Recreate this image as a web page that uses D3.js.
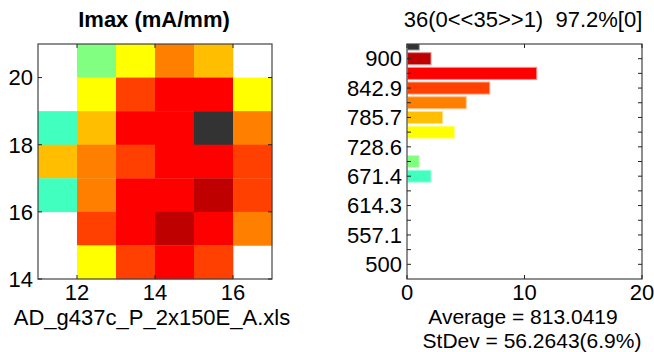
<!DOCTYPE html>
<html><head><meta charset="utf-8">
<script src="https://cdn.jsdelivr.net/npm/d3@7"></script>
<style>
html,body{margin:0;padding:0;background:#fff;}
svg{display:block;}
text{font-family:"Liberation Sans",Arial,sans-serif;fill:#000;}
</style></head>
<body>
<script>
// ---------- data ----------
const title = "Imax (mA/mm)";
const fileName = "AD_g437c_P_2x150E_A.xls";
const histTitle = "36(0<<35>>1)  97.2%[0]";
const avgText = "Average = 813.0419";
const stdText = "StDev = 56.2643(6.9%)";

const gridX = [11, 12, 13, 14, 15, 16];          // cell left edges
const gridY = [20, 19, 18, 17, 16, 15, 14];      // cell bottom edges
// Imax values (mA/mm), null = no data
const gridValues = [
  [null, 702, 760, 812, 786, null],
  [null, 755, 845, 872, 870, 758],
  [672,  787, 868, 875, 935, 815],
  [784,  813, 841, 870, 873, 843],
  [670,  816, 872, 869, 899, 844],
  [null, 842, 871, 901, 874, 812],
  [null, 757, 843, 870, 842, null]
];

// histogram bins (centers) and counts
const binCenters = [928.57, 900, 871.43, 842.86, 814.29, 785.71, 757.14, 728.57, 700, 671.43, 642.86, 614.29, 585.71, 557.14, 528.57, 500];
const binCounts  = [1, 2, 11, 7, 5, 3, 4, 0, 1, 2, 0, 0, 0, 0, 0, 0];
const binColors  = ["#333333", "#bf0000", "#ff0000", "#ff4000", "#ff8000", "#ffbf00", "#ffff00", "#bfff40", "#80ff80", "#40ffbf", "#00ffff", "#00bfff", "#0080ff", "#0040ff", "#0000ff", "#0000bf"];

const heatXTicks = [12, 14, 16];
const heatYTicks = [14, 16, 18, 20];
const histXTicks = [0, 10, 20];
const histYTickValues = [500, 528.57, 557.14, 585.71, 614.29, 642.86, 671.43, 700, 728.57, 757.14, 785.71, 814.29, 842.86, 871.43, 900];
const histYLabelValues = [500, 557.14, 614.29, 671.43, 728.57, 785.71, 842.86, 900];
const histYLabels = ["500", "557.1", "614.3", "671.4", "728.6", "785.7", "842.9", "900"];

// ---------- layout ----------
const W = 654, H = 352;
const FS = 22;
const FS2 = 21;
const svg = d3.select("body").append("svg").attr("width", W).attr("height", H);
const axisColor = "#444";
const tickLen = 4;

const binW = 400 / 14;
const colorOf = v => {
  let best = 0, bd = Infinity;
  binCenters.forEach((c, i) => { const d = Math.abs(v - c); if (d < bd) { bd = d; best = i; } });
  return binColors[best];
};

// ---------- heatmap ----------
const hx = d3.scaleLinear().domain([11, 17]).range([38, 272]);
const hy = d3.scaleLinear().domain([14, 21]).range([279, 44]);

const cells = [];
gridValues.forEach((row, r) => row.forEach((v, c) => {
  if (v !== null) cells.push({x: gridX[c], y: gridY[r], v});
}));
svg.append("g").selectAll("rect").data(cells).join("rect")
  .attr("x", d => hx(d.x)).attr("y", d => hy(d.y + 1))
  .attr("width", d => hx(d.x + 1) - hx(d.x) + 0.3)
  .attr("height", d => hy(d.y) - hy(d.y + 1) + 0.3)
  .attr("fill", d => colorOf(d.v));

function frame(x0, x1, y0, y1) {
  svg.append("rect").attr("x", x0).attr("y", y0).attr("width", x1 - x0).attr("height", y1 - y0)
    .attr("fill", "none").attr("stroke", axisColor).attr("stroke-width", 1.2);
}
frame(hx(11), hx(17), hy(21), hy(14));

const hg = svg.append("g").attr("stroke", "#222").attr("stroke-width", 1);
heatXTicks.forEach(t => {
  hg.append("line").attr("x1", hx(t)).attr("x2", hx(t)).attr("y1", hy(14)).attr("y2", hy(14) - tickLen);
  hg.append("line").attr("x1", hx(t)).attr("x2", hx(t)).attr("y1", hy(21)).attr("y2", hy(21) + tickLen);
});
heatYTicks.forEach(t => {
  hg.append("line").attr("x1", hx(11)).attr("x2", hx(11) + tickLen).attr("y1", hy(t)).attr("y2", hy(t));
  hg.append("line").attr("x1", hx(17)).attr("x2", hx(17) - tickLen).attr("y1", hy(t)).attr("y2", hy(t));
});
svg.append("g").selectAll("text").data(heatXTicks).join("text")
  .attr("x", d => hx(d)).attr("y", 300).attr("text-anchor", "middle")
  .attr("font-size", FS).text(d => d);
svg.append("g").selectAll("text").data(heatYTicks).join("text")
  .attr("x", 33).attr("y", d => hy(d) + 7.8).attr("text-anchor", "end")
  .attr("font-size", FS).text(d => d);

svg.append("text").attr("x", 154).attr("y", 27).attr("text-anchor", "middle")
  .attr("font-size", FS).attr("font-weight", "bold").text(title);
svg.append("text").attr("x", 152).attr("y", 325).attr("text-anchor", "middle")
  .attr("font-size", FS).text(fileName);

// ---------- histogram ----------
const bx = d3.scaleLinear().domain([0, 20]).range([407, 642]);
const by = d3.scaleLinear().domain([471.43, 928.57]).range([279, 44]);

svg.append("clipPath").attr("id", "hclip").append("rect")
  .attr("x", bx(0)).attr("y", by(928.57)).attr("width", bx(20) - bx(0)).attr("height", by(471.43) - by(928.57));

const bars = binCenters.map((c, i) => ({c, n: binCounts[i], col: binColors[i]})).filter(d => d.n > 0);
const barH = binW * 0.82;
svg.append("g").attr("clip-path", "url(#hclip)").selectAll("rect").data(bars).join("rect")
  .attr("x", bx(0) + 0.5).attr("y", d => by(d.c + barH / 2))
  .attr("width", d => bx(d.n) - bx(0))
  .attr("height", d => by(d.c - barH / 2) - by(d.c + barH / 2))
  .attr("fill", d => d.col)
  .attr("stroke", d => d3.interpolateRgb(d.col, "#fff")(0.55))
  .attr("stroke-width", 1);

frame(bx(0), bx(20), by(928.57), by(471.43));

const bg = svg.append("g").attr("stroke", "#222").attr("stroke-width", 1);
histXTicks.forEach(t => {
  bg.append("line").attr("x1", bx(t)).attr("x2", bx(t)).attr("y1", by(471.43)).attr("y2", by(471.43) - tickLen);
  bg.append("line").attr("x1", bx(t)).attr("x2", bx(t)).attr("y1", by(928.57)).attr("y2", by(928.57) + tickLen);
});
histYTickValues.forEach(t => {
  bg.append("line").attr("x1", bx(0)).attr("x2", bx(0) + tickLen).attr("y1", by(t)).attr("y2", by(t));
  bg.append("line").attr("x1", bx(20)).attr("x2", bx(20) - tickLen).attr("y1", by(t)).attr("y2", by(t));
});
svg.append("g").selectAll("text").data(histXTicks).join("text")
  .attr("x", d => bx(d)).attr("y", 300).attr("text-anchor", "middle")
  .attr("font-size", FS).text(d => d);
svg.append("g").selectAll("text").data(histYLabelValues).join("text")
  .attr("x", 402).attr("y", d => by(d) + 7.8).attr("text-anchor", "end")
  .attr("font-size", FS).text((d, i) => histYLabels[i]);

svg.append("text").attr("x", 523).attr("y", 27).attr("text-anchor", "middle")
  .attr("font-size", FS).attr("xml:space", "preserve").style("white-space", "pre").text(histTitle);
svg.append("text").attr("x", 523).attr("y", 324).attr("text-anchor", "middle")
  .attr("font-size", FS2).text(avgText);
svg.append("text").attr("x", 532).attr("y", 347.6).attr("text-anchor", "middle")
  .attr("font-size", FS2).text(stdText);
</script>
</body></html>
